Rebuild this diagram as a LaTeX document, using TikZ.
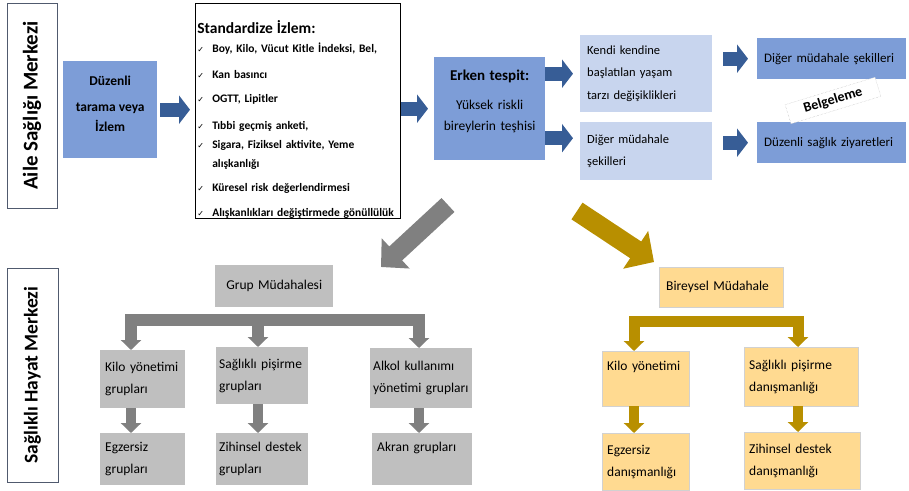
\documentclass[tikz,border=0pt]{standalone}
\usepackage{fontspec}
\setmainfont{Carlito}
\newfontfamily\checkfont{DejaVu Sans}
\usepackage{xcolor}
\usepackage{tikz}
\usetikzlibrary{arrows.meta, positioning}

\definecolor{boxblue}{RGB}{125,157,215}
\definecolor{paleblue}{RGB}{200,213,238}
\definecolor{arrowblue}{RGB}{55,93,150}
\definecolor{boxgrey}{RGB}{191,191,191}
\definecolor{arrowgrey}{RGB}{128,128,128}
\definecolor{darkgold}{RGB}{184,143,0}
\definecolor{palegold}{RGB}{255,218,145}
\definecolor{framegrey}{RGB}{80,90,110}

\newcommand{\chkmark}{\makebox[15pt][l]{\checkfont\fontsize{8}{8}\selectfont ✓}}

\begin{document}
\begin{tikzpicture}[x=1pt, y=-1pt,
  frame/.style={draw=framegrey, fill=white, line width=0.8pt, rotate=90, inner sep=0pt, font=\bfseries\fontsize{21}{24}\selectfont},
  bluebox/.style={fill=boxblue, anchor=north west, inner sep=0pt, align=center, font=\bfseries\fontsize{13.5}{20}\selectfont},
  listbox/.style={draw=black, line width=0.6pt, fill=white, anchor=north west, align=left, text width=201, inner xsep=2pt, inner ysep=0pt, font=\bfseries\fontsize{11.5}{19}\selectfont},
  paleblock/.style={fill=paleblue, anchor=north west, align=left, inner xsep=7pt, inner ysep=0pt, font=\fontsize{12.5}{22.5}\selectfont},
  rightbox/.style={fill=boxblue, anchor=north west, align=left, inner xsep=7pt, inner ysep=0pt, font=\fontsize{13}{16}\selectfont},
  tagbox/.style={draw=black!30, densely dotted, fill=white, rotate=17, minimum width=94, minimum height=20, inner sep=1pt, font=\bfseries\fontsize{14}{16}\selectfont},
  lowbox/.style={anchor=north west, align=left, inner xsep=5pt, inner ysep=0pt, font=\fontsize{13.5}{22}\selectfont},
  greybox/.style={lowbox, fill=boxgrey},
  goldbox/.style={lowbox, fill=palegold, draw=black!18, line width=0.4pt},
  blockarrow/.style={draw=arrowblue, line width=14pt, -{Triangle[length=11pt, width=28pt]}},
  greystem/.style={draw=arrowgrey, line width=12pt, line join=miter, -{Triangle[length=10pt, width=20pt]}},
  greyshort/.style={draw=arrowgrey, line width=10pt, -{Triangle[length=10pt, width=20pt]}},
  goldstem/.style={draw=darkgold, line width=11pt, line join=miter, -{Triangle[length=10pt, width=20pt]}},
  goldshort/.style={draw=darkgold, line width=10pt, -{Triangle[length=10pt, width=20pt]}},
  greybig/.style={draw=arrowgrey, line width=19pt, -{Triangle[length=20pt, width=40pt]}},
  goldbig/.style={draw=darkgold, line width=20pt, -{Triangle[length=22pt, width=44pt]}}
]
  \useasboundingbox (0,0) rectangle (909,490);

  % side labels
  \node[frame, minimum width=205, minimum height=50] (asm) at (32,105.5) {Aile Sağlığı Merkezi};
  \node[frame, minimum width=214, minimum height=51, font=\bfseries\fontsize{19.5}{22}\selectfont] (shm) at (32.5,375) {Sağlıklı Hayat Merkezi};

  % upper row
  \node[bluebox, minimum width=94, minimum height=97] (scr) at (63,61) {Düzenli\\[6pt]tarama veya\\İzlem\rule[-12pt]{0pt}{12pt}};
  \node[listbox] (std) at (195,3) {\rule{0pt}{30pt}{\fontsize{15.5}{19}\selectfont Standardize İzlem:}\\
    \chkmark Boy, Kilo, Vücut Kitle İndeksi, Bel,\\[7pt]
    \chkmark Kan basıncı\\[5pt]
    \chkmark OGTT, Lipitler\\[8pt]
    \chkmark Tıbbi geçmiş anketi,\\
    \chkmark Sigara, Fiziksel aktivite, Yeme\\
    \hspace*{15pt}alışkanlığı\\[5pt]
    \chkmark Küresel risk değerlendirmesi\\[6pt]
    \chkmark Alışkanlıkları değiştirmede gönüllülük};
  \node[bluebox, font=\fontsize{13.5}{21}\selectfont, text width=111, minimum height=103] (erk) at (434,57) {{\bfseries\fontsize{15}{18}\selectfont Erken tespit:}\\[8pt]Yüksek riskli\\bireylerin teşhisi\rule[-17pt]{0pt}{17pt}};
  \node[paleblock, text width=118, minimum height=77] (kendi) at (580,35) {Kendi kendine\\başlatılan yaşam\\tarzı değişiklikleri};
  \node[paleblock, text width=118, minimum height=58] (dig1) at (580,122) {Diğer müdahale\\şekilleri};
  \node[rightbox, text width=135, minimum height=41] (dig2) at (757,38) {Diğer müdahale şekilleri};
  \node[rightbox, text width=135, minimum height=41] (duz) at (757,122) {Düzenli sağlık ziyaretleri};
  \node[tagbox] (belge) at (833,100.5) {Belgeleme};

  \coordinate (lowrow) at ([yshift=13pt]dig1.west);
  \draw[blockarrow, shorten <=3pt, shorten >=5pt] (scr.east) -- (scr.east -| std.west);
  \draw[blockarrow, shorten >=6pt] (std.east |- erk.west) -- (erk.west);
  \draw[blockarrow, shorten >=7pt] (erk.east |- kendi.west) -- (kendi.west);
  \draw[blockarrow, shorten >=7pt] (erk.east |- lowrow) -- (lowrow);
  \draw[blockarrow, shorten <=11pt, shorten >=9pt] (kendi.east |- dig2.west) -- (dig2.west);
  \draw[blockarrow, shorten <=11pt, shorten >=9pt] (dig1.east |- duz.west) -- (duz.west);

  % big arrows to the two branches
  \coordinate (gtail) at (448,205);
  \coordinate (gtip) at (381,267);
  \coordinate (otail) at (577,211);
  \coordinate (otip) at (654,262);
  \draw[greybig] (gtail) -- (gtip);
  \draw[goldbig] (otail) -- (otip);

  % group branch
  \node[greybox, align=center, text width=108, minimum height=42] (grp) at (215,265) {Grup Müdahalesi};
  \node[greybox, text width=75, minimum height=58] (gk1) at (100,350) {Kilo yönetimi\\grupları};
  \node[greybox, inner xsep=3pt, text width=86, minimum height=57] (gk2) at (216,347) {Sağlıklı pişirme\\grupları};
  \node[greybox, inner xsep=3pt, text width=96, minimum height=60] (gk3) at (370,348) {Alkol kullanımı\\yönetimi grupları};
  \node[greybox, text width=75, minimum height=52] (ge1) at (100,433) {Egzersiz\\grupları};
  \node[greybox, inner xsep=3pt, text width=86, minimum height=52] (ge2) at (216,433) {Zihinsel destek\\grupları};
  \node[greybox, text width=90, minimum height=52, text depth=25pt] (ge3) at (372,433) {Akran grupları};

  \coordinate (gL) at (131,320);
  \coordinate (gM) at (258,320);
  \coordinate (gR) at (419,320);
  \draw[greystem, {Triangle[length=10pt, width=20pt]}-{Triangle[length=10pt, width=20pt]}] (gL |- gk1.north) -- (gL) -- (gR) -- (gR |- gk3.north);
  \draw[greystem] (gM) -- (gM |- gk2.north);
  \draw[greyshort] (gk1.south -| gL) -- (ge1.north -| gL);
  \draw[greyshort] (gk2.south -| gM) -- (ge2.north -| gM);
  \draw[greyshort] (gk3.south -| gR) -- (ge3.north -| gR);

  % individual branch
  \node[goldbox, inner xsep=7pt, text width=110, minimum height=40] (bir) at (659,267) {Bireysel Müdahale};
  \node[goldbox, text width=77, minimum height=55, text depth=25pt] (bk1) at (602,351) {Kilo yönetimi};
  \node[goldbox, text width=104, minimum height=59] (bk2) at (744,347) {Sağlıklı pişirme\\danışmanlığı};
  \node[goldbox, text width=77, minimum height=57] (be1) at (602,433) {Egzersiz\\danışmanlığı};
  \node[goldbox, text width=106, minimum height=57] (be2) at (744,432) {Zihinsel destek\\danışmanlığı};

  \coordinate (oL) at (634,321);
  \coordinate (oR) at (798,321);
  \draw[goldstem, {Triangle[length=10pt, width=20pt]}-{Triangle[length=10pt, width=20pt]}] (oL |- bk1.north) -- (oL) -- (oR) -- (oR |- bk2.north);
  \draw[goldshort] (bk1.south -| oL) -- (be1.north -| oL);
  \draw[goldshort] (bk2.south -| oR) -- (be2.north -| oR);
\end{tikzpicture}
\end{document}
